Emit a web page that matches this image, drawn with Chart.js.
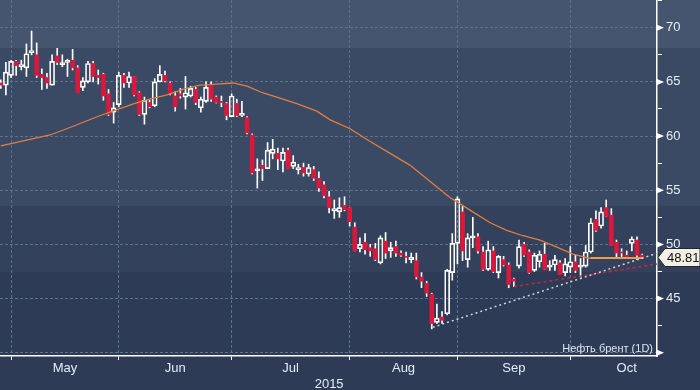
<!DOCTYPE html>
<html>
<head>
<meta charset="utf-8">
<script src="https://cdn.jsdelivr.net/npm/chart.js@4.4.1/dist/chart.umd.min.js"></script>
<style>
  html, body { margin: 0; padding: 0; background: #2e3b57; }
  #wrap { width: 700px; height: 390px; position: relative; }
</style>
</head>
<body>
<div id="wrap"><canvas id="chart"></canvas></div>
<script>
// daily candles, one per trading day (index 0 = 29 Apr 2015)
const openP = [64.9, 64.7, 65.6, 66.9, 66.4, 66.3, 67.7, 67.5, 65.7, 65.4,
  64.7, 67.4, 66.6, 66.8, 67.0, 66.3, 64.5, 65.0, 66.7, 65.6,
  65.7, 63.9, 62.2, 62.9, 65.6, 64.9, 65.5, 64.0, 62.0, 63.1,
  62.8, 65.0, 65.6, 64.9, 63.7, 63.9, 63.6, 63.7, 64.3, 62.6,
  63.2, 64.7, 63.6, 63.2, 63.0, 61.8, 63.0, 61.9, 61.7, 60.1,
  56.8, 57.3, 57.0, 58.4, 58.4, 57.7, 58.7, 57.2, 56.9, 57.1,
  56.5, 56.9, 56.1, 55.5, 54.4, 53.1, 53.0, 53.6, 53.4, 51.6,
  49.6, 50.2, 49.7, 49.6, 48.3, 50.3, 49.4, 49.8, 49.2, 48.85,
  48.6, 48.5, 47.0, 46.4, 45.4, 42.8, 43.3, 43.6, 47.4, 50.1,
  53.0, 48.6, 50.6, 50.7, 49.3, 47.7, 49.4, 47.4, 48.6, 48.1,
  46.8, 48.0, 50.0, 49.3, 47.6, 48.4, 49.1, 47.9, 48.1, 48.3,
  47.4, 47.9, 48.4, 47.9, 48.0, 49.3, 52.3, 51.7, 53.4, 52.7,
  50.2, 49.3, 49.0, 50.1, 50.4, 49.0];
const highP = [65.2, 66.8, 67.0, 67.0, 67.0, 68.5, 69.7, 68.6, 66.2, 65.8,
  67.5, 68.1, 67.5, 67.1, 68.0, 66.5, 65.4, 66.9, 66.9, 66.1,
  65.8, 64.3, 63.1, 65.9, 65.8, 65.9, 65.5, 64.1, 63.6, 63.3,
  65.3, 66.5, 66.0, 65.0, 64.1, 64.4, 65.5, 64.6, 64.5, 63.6,
  65.0, 65.0, 63.7, 63.7, 63.1, 63.9, 63.4, 63.2, 61.8, 60.2,
  57.9, 57.8, 59.4, 59.7, 58.9, 58.9, 58.9, 58.2, 57.4, 57.5,
  57.4, 57.2, 56.7, 55.8, 54.9, 54.1, 54.3, 54.4, 53.4, 52.0,
  50.6, 51.0, 50.0, 50.1, 50.8, 51.1, 50.2, 50.3, 49.4, 49.3,
  49.2, 49.2, 47.4, 46.6, 45.5, 44.5, 43.8, 47.7, 51.0, 54.4,
  53.5, 51.0, 52.5, 51.0, 49.8, 50.3, 49.8, 49.0, 48.9, 48.3,
  46.9, 50.4, 50.2, 49.5, 49.2, 49.4, 50.1, 48.5, 49.0, 48.5,
  48.7, 49.8, 49.0, 48.7, 49.9, 52.4, 53.1, 53.4, 54.1, 53.3,
  50.4, 49.6, 49.4, 50.7, 50.7, 49.1];
const lowP = [64.4, 63.8, 65.4, 65.6, 66.1, 65.5, 67.5, 65.4, 64.3, 64.4,
  64.7, 66.6, 66.4, 65.5, 66.1, 64.0, 64.2, 64.9, 65.0, 64.8,
  63.3, 61.9, 61.2, 62.7, 64.5, 64.5, 63.7, 61.9, 61.1, 62.6,
  62.7, 65.0, 65.0, 63.8, 62.3, 63.5, 62.5, 63.6, 62.9, 62.2,
  63.1, 63.2, 63.05, 62.7, 61.5, 61.8, 61.8, 61.8, 60.2, 56.5,
  55.2, 55.9, 57.0, 57.9, 56.9, 56.7, 57.0, 57.0, 56.5, 56.3,
  56.3, 55.9, 54.9, 54.3, 52.9, 52.4, 52.5, 53.1, 51.7, 49.4,
  49.3, 49.1, 48.9, 48.5, 48.2, 48.7, 48.8, 48.9, 48.9, 48.3,
  48.3, 46.8, 46.0, 45.2, 42.2, 42.7, 42.7, 43.5, 46.7, 48.2,
  48.5, 47.9, 49.7, 49.2, 47.6, 47.6, 47.4, 46.9, 48.0, 46.0,
  46.1, 47.8, 48.9, 47.3, 47.5, 47.9, 47.7, 47.6, 47.6, 47.2,
  47.1, 47.4, 47.4, 47.0, 47.9, 49.2, 51.2, 51.5, 52.6, 49.9,
  48.8, 48.7, 48.8, 49.4, 48.6, 48.7];
const closeP = [64.7, 65.9, 66.9, 66.5, 66.6, 67.6, 67.9, 65.6, 65.4, 64.9,
  66.9, 66.8, 66.65, 66.9, 66.3, 64.0, 65.1, 66.7, 65.5, 65.4,
  63.7, 62.0, 62.6, 65.6, 64.9, 65.5, 63.8, 62.0, 63.3, 62.7,
  65.0, 65.7, 65.1, 63.9, 62.7, 63.7, 64.0, 64.4, 63.1, 63.4,
  64.5, 63.4, 63.1, 63.1, 61.9, 63.7, 61.9, 62.1, 60.3, 56.6,
  56.9, 57.0, 58.7, 58.8, 57.9, 58.5, 57.0, 57.6, 57.1, 56.6,
  57.1, 56.1, 55.2, 54.5, 53.4, 53.3, 53.4, 53.2, 52.1, 49.4,
  50.0, 49.5, 49.4, 48.6, 50.6, 49.2, 49.7, 49.2, 49.0, 48.8,
  48.8, 47.0, 46.6, 45.5, 42.7, 43.2, 43.0, 47.6, 50.1, 54.2,
  49.4, 50.6, 50.7, 49.4, 47.7, 49.5, 47.5, 48.9, 48.1, 46.3,
  46.6, 49.8, 49.0, 47.4, 49.0, 49.1, 47.7, 48.1, 48.6, 47.2,
  48.2, 48.4, 47.6, 48.1, 49.3, 52.0, 51.3, 53.0, 52.6, 49.9,
  49.2, 49.2, 48.8, 50.5, 49.0, 48.81];

// moving average
const maIdx = [0, 2, 9.6, 13, 19.4, 26, 29, 32.4, 35.5, 38.8, 42, 45.3, 48, 51, 54.4,
  57.7, 61.6, 64.2, 68, 72, 75.9, 79.8, 83.7, 87.6, 90, 92, 95.4, 98.6, 101.8,
  105.1, 108.4, 111.5, 114.9];
const maVal = [59.1, 59.3, 60.1, 60.7, 61.9, 63.0, 63.4, 63.8, 64.3, 64.7, 64.8, 64.9, 64.6, 64.0, 63.5,
  63.0, 62.3, 61.5, 60.7, 59.5, 58.4, 57.3, 55.8, 54.3, 53.6, 53.0, 52.0, 51.3, 50.8,
  50.4, 49.75, 49.1, 48.7];

// support level and trend lines
const supportIdx = [114.9, 125];
const supportVal = [48.75, 48.75];
const whiteTrendIdx = [84.2, 128];
const whiteTrendVal = [42.35, 49.2];
const redTrendIdx = [100, 128];
const redTrendVal = [46.1, 48.2];

// axes
const monthStarts = [2, 23, 45, 68, 89, 111];
const monthMids = [12.5, 34, 56.5, 78.5, 100, 122];
const monthNames = ['May', 'Jun', 'Jul', 'Aug', 'Sep', 'Oct'];
const yearPos = 64;
const yearLabel = '2015';
const yTickVals = [40, 42.5, 45, 47.5, 50, 52.5, 55, 57.5, 60, 62.5, 65, 67.5, 70, 72.5];
const yLabelVals = [45, 50, 55, 60, 65, 70];
const lastPrice = 48.81;
const seriesName = 'Нефть брент (1D)';

const gridCol = '#5a728c';
const red = '#d9183b';

const upBodies = [], downBodies = [], upperWicks = [], lowerWicks = [];
openP.forEach((o, i) => {
    const c = closeP[i];
    const top = Math.max(o, c), bot = Math.min(o, c);
    upperWicks.push({ x: i, y: [top, highP[i]] });
    lowerWicks.push({ x: i, y: [lowP[i], bot] });
    if (c >= o) upBodies.push({ x: i, y: [o, c] });
    else downBodies.push({ x: i, y: [c, o] });
});

const pts = (xs, ys) => xs.map((x, k) => ({ x: x, y: ys[k] }));

const bandsPlugin = {
    id: 'bands',
    beforeDraw(chart) {
        const ctx = chart.ctx;
        const bands = [[0, 48, '#46556f'], [48, 206, '#3a4a64'], [206, 272, '#33415c'], [272, 390, '#2e3b57']];
        ctx.save();
        bands.forEach(b => {
            ctx.fillStyle = b[2];
            ctx.fillRect(0, b[0], chart.width, b[1] - b[0]);
        });
        ctx.restore();
    }
};

const extrasPlugin = {
    id: 'extras',
    afterDraw(chart) {
        const ctx = chart.ctx;
        const area = chart.chartArea;
        const ys = chart.scales.y;
        ctx.save();
        // arrow markers on major ticks
        ctx.fillStyle = '#ffffff';
        [40].concat(yLabelVals).forEach(v => {
            const py = ys.getPixelForValue(v);
            ctx.beginPath();
            ctx.moveTo(area.right, py - 3);
            ctx.lineTo(area.right + 7, py);
            ctx.lineTo(area.right, py + 3);
            ctx.closePath();
            ctx.fill();
        });
        // series caption
        ctx.font = '11px "Liberation Sans"';
        ctx.fillStyle = '#dfe6ee';
        ctx.textAlign = 'right';
        ctx.textBaseline = 'alphabetic';
        ctx.fillText(seriesName, area.right - 4, area.bottom - 4);
        // last price tag
        const py = Math.round(ys.getPixelForValue(lastPrice)) + 0.5;
        ctx.beginPath();
        ctx.moveTo(area.right + 1, py);
        ctx.lineTo(area.right + 8, py - 9);
        ctx.lineTo(chart.width, py - 9);
        ctx.lineTo(chart.width, py + 9);
        ctx.lineTo(area.right + 8, py + 9);
        ctx.closePath();
        ctx.fillStyle = '#f4f1e4';
        ctx.fill();
        ctx.strokeStyle = '#1e2638';
        ctx.lineWidth = 1;
        ctx.stroke();
        ctx.fillStyle = '#111111';
        ctx.font = '13px "Liberation Sans"';
        ctx.textAlign = 'left';
        ctx.textBaseline = 'middle';
        ctx.fillText(lastPrice.toFixed(2), area.right + 10, py + 1);
        ctx.restore();
    }
};

Chart.defaults.font.family = '"Liberation Sans", "DejaVu Sans", sans-serif';

const xTickVals = monthStarts.concat(monthMids, [yearPos]).sort((a, b) => a - b);
const isStart = v => monthStarts.includes(v);

new Chart(document.getElementById('chart'), {
    type: 'bar',
    data: {
        datasets: [
            { type: 'bar', data: upperWicks, backgroundColor: '#ffffff', barThickness: 1, grouped: false, order: 5 },
            { type: 'bar', data: lowerWicks, backgroundColor: '#ffffff', barThickness: 1, grouped: false, order: 5 },
            { type: 'bar', data: downBodies, backgroundColor: red, barThickness: 4, grouped: false, minBarLength: 1, order: 4 },
            { type: 'bar', data: upBodies, backgroundColor: 'rgba(0,0,0,0)', borderColor: '#ffffff', borderWidth: 1,
              borderSkipped: false, barThickness: 5, grouped: false, minBarLength: 2, order: 4 },
            { type: 'line', data: pts(maIdx, maVal), borderColor: '#e37d3f', borderWidth: 1.3, pointRadius: 0, order: 3 },
            { type: 'line', data: pts(supportIdx, supportVal), borderColor: '#f59a4c', borderWidth: 2, pointRadius: 0, order: 2 },
            { type: 'line', data: pts(whiteTrendIdx, whiteTrendVal), borderColor: '#cfd4dc', borderWidth: 1.5,
              borderDash: [2, 3], pointRadius: 0, order: 1 },
            { type: 'line', data: pts(redTrendIdx, redTrendVal), borderColor: '#c9253b', borderWidth: 1.5,
              borderDash: [3, 3], pointRadius: 0, order: 1 }
        ]
    },
    options: {
        responsive: true,
        maintainAspectRatio: false,
        animation: false,
        layout: { padding: 0 },
        plugins: { legend: { display: false }, tooltip: { enabled: false } },
        scales: {
            x: {
                type: 'linear',
                min: -0.15,
                max: 127.9,
                offset: false,
                afterBuildTicks: s => { s.ticks = xTickVals.map(v => ({ value: v })); },
                afterFit: s => { s.height = 34; s.paddingLeft = 0; s.paddingRight = 0; },
                grid: {
                    offset: false,
                    color: c => (c.tick && isStart(c.tick.value)) ? gridCol : 'rgba(0,0,0,0)',
                    tickColor: c => (c.tick && isStart(c.tick.value)) ? '#ffffff' : 'rgba(0,0,0,0)',
                    tickLength: 4,
                    lineWidth: 1
                },
                border: { display: true, color: '#ffffff', width: 1.5, dash: [3, 2] },
                ticks: {
                    autoSkip: false,
                    maxRotation: 0,
                    padding: 1,
                    color: '#e6ecf2',
                    font: { size: 13 },
                    callback: v => {
                        const k = monthMids.indexOf(v);
                        if (k >= 0) return monthNames[k];
                        if (v === yearPos) return ['', yearLabel];
                        return '';
                    }
                }
            },
            y: {
                position: 'right',
                min: 39.7,
                max: 72.56,
                afterBuildTicks: s => { s.ticks = yTickVals.map(v => ({ value: v })); },
                afterFit: s => { s.width = 43; s.paddingTop = 0; s.paddingBottom = 0; },
                grid: {
                    color: c => (c.tick && c.tick.value % 5 === 0) ? gridCol : 'rgba(0,0,0,0)',
                    tickColor: '#ffffff',
                    tickLength: 5,
                    lineWidth: 1
                },
                border: { display: true, color: '#ffffff', width: 1.5, dash: [3, 2] },
                ticks: {
                    padding: 4,
                    color: '#e6ecf2',
                    font: { size: 13 },
                    callback: v => yLabelVals.includes(v) ? String(v) : ''
                }
            }
        }
    },
    plugins: [bandsPlugin, extrasPlugin]
});
</script>
</body>
</html>
